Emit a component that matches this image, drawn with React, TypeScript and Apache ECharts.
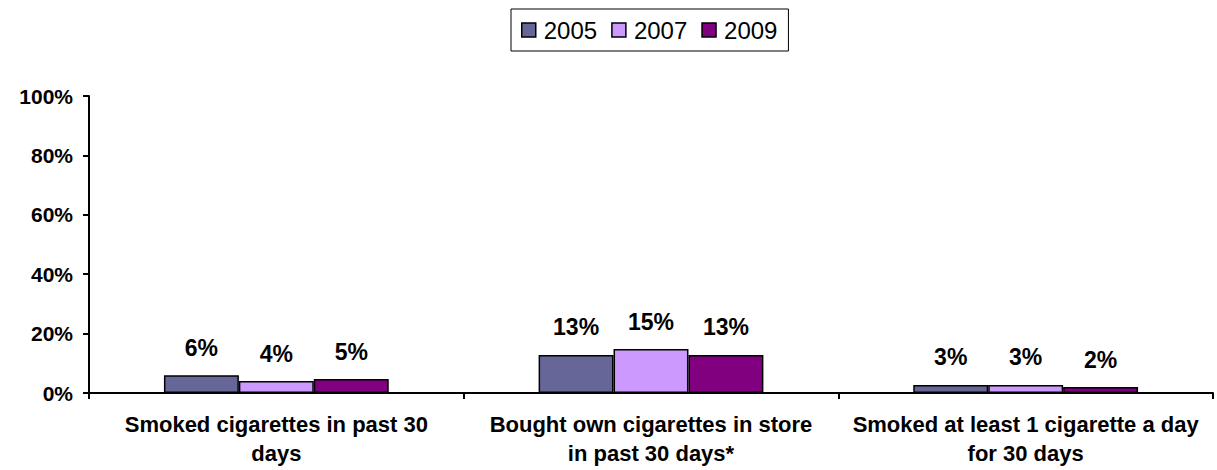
import React, { useEffect, useRef } from "react";
import * as echarts from "echarts";

const categories = [
  "Smoked cigarettes in past 30\ndays",
  "Bought own cigarettes in store\nin past 30 days*",
  "Smoked at least 1 cigarette a day\nfor 30 days",
];
const seriesNames = ["2005", "2007", "2009"];
const values2005 = [6, 12.8, 2.7];
const values2007 = [4, 14.8, 2.7];
const values2009 = [4.7, 12.8, 2];
const colors = ["#666699", "#CC99FF", "#800080"];

const FONT = "'Liberation Sans', Arial, sans-serif";

export default function App() {
  const ref = useRef<HTMLDivElement>(null);
  useEffect(() => {
    if (!ref.current) return;
    const chart = echarts.init(ref.current, undefined, { renderer: "svg" });
    const data = [values2005, values2007, values2009];
    chart.setOption({
      animation: false,
      backgroundColor: "#ffffff",
      textStyle: { fontFamily: FONT },
      legend: {
        left: 511,
        top: 9,
        data: seriesNames,
        icon: "rect",
        itemWidth: 14,
        itemHeight: 14,
        itemGap: 14,
        itemStyle: { borderColor: "#000", borderWidth: 1.5 },
        borderColor: "#000",
        borderWidth: 1,
        padding: [9, 11, 9, 10],
        textStyle: { fontFamily: FONT, fontSize: 24, color: "#000", padding: [0, 0, 0, 3] },
      },
      grid: { left: 89, right: 4, top: 96, bottom: 77, containLabel: false },
      xAxis: {
        type: "category",
        data: categories,
        boundaryGap: true,
        axisLine: { show: true, lineStyle: { color: "#000", width: 2 } },
        axisTick: { show: true, length: 6, lineStyle: { color: "#000", width: 2 } },
        axisLabel: {
          interval: 0,
          margin: 17,
          fontFamily: FONT,
          fontSize: 22,
          fontWeight: "bold",
          color: "#000",
          lineHeight: 29,
          align: "center",
        },
      },
      yAxis: {
        type: "value",
        min: 0,
        max: 100,
        interval: 20,
        splitLine: { show: false },
        axisLine: { show: true, lineStyle: { color: "#000", width: 2 } },
        axisTick: { show: true, length: 6, lineStyle: { color: "#000", width: 2 } },
        axisLabel: {
          formatter: "{value}%",
          margin: 16,
          fontFamily: FONT,
          fontSize: 21,
          fontWeight: "bold",
          color: "#000",
        },
      },
      series: seriesNames.map((name, i) => ({
        name,
        type: "bar",
        data: data[i],
        barGap: "0%",
        barCategoryGap: "40%",
        itemStyle: { color: colors[i], borderColor: "#000", borderWidth: 1.5 },
        label: {
          show: true,
          position: "top",
          distance: 16,
          formatter: (p: any) => Math.round(p.value) + "%",
          fontFamily: FONT,
          fontSize: 23,
          fontWeight: "bold",
          color: "#000",
        },
      })),
    });
    return () => chart.dispose();
  }, []);
  return (
    <div
      ref={ref}
      style={{ position: "fixed", left: 0, top: 0, width: 1217, height: 470 }}
    />
  );
}
